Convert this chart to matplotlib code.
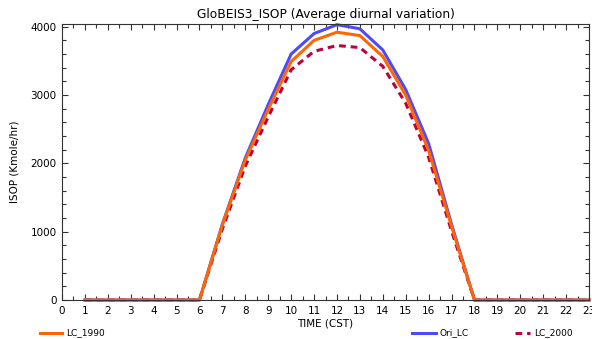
import matplotlib
matplotlib.use("Agg")
import matplotlib.pyplot as plt
from matplotlib.lines import Line2D
from matplotlib.ticker import MultipleLocator

# hourly values (hours 1..23, CST)
hours = list(range(1, 24))
lc_1990 = [0, 0, 0, 0, 0, 0, 1100, 2050, 2790, 3490, 3800, 3920, 3870, 3565, 3000, 2190, 1080,
           0, 0, 0, 0, 0, 0]
ori_lc = [0, 0, 0, 0, 0, 0, 1110, 2080, 2860, 3600, 3900, 4030, 3970, 3660, 3080, 2290, 1110,
          0, 0, 0, 0, 0, 0]
lc_2000 = [0, 0, 0, 0, 0, 0, 1040, 1960, 2680, 3370, 3640, 3725, 3695, 3420, 2880, 2090, 1010,
           0, 0, 0, 0, 0, 0]

c_1990 = "#ff6600"
c_ori = "#4a4aff"
c_2000 = "#c0003c"

fig = plt.figure(figsize=(5.92, 3.39), dpi=100)
ax = fig.add_axes([62 / 592, 1 - 300 / 339, 527 / 592, 276 / 339])

ax.plot(hours, lc_2000, color=c_2000, lw=2.2, ls=(0, (2.2, 1.6)), clip_on=False)
ax.plot(hours, ori_lc, color=c_ori, lw=2.2, clip_on=False)
ax.plot(hours, lc_1990, color=c_1990, lw=2.2, clip_on=False)

ax.set_xlim(0, 23)
ax.set_ylim(0, 4040)
ax.xaxis.set_major_locator(MultipleLocator(1))
ax.xaxis.set_minor_locator(MultipleLocator(0.5))
ax.yaxis.set_major_locator(MultipleLocator(1000))
ax.yaxis.set_minor_locator(MultipleLocator(200))
ax.tick_params(which="both", direction="in", top=True, right=True,
               labelsize=7.5, color="#333333", width=0.8)
ax.tick_params(which="major", length=4, pad=4)
ax.tick_params(which="minor", length=3)
for s in ax.spines.values():
    s.set_linewidth(0.8)
    s.set_color("#333333")

ax.set_title("GloBEIS3_ISOP (Average diurnal variation)", fontsize=8.8, pad=4)
ax.set_xlabel("TIME (CST)", fontsize=7.5, labelpad=2)
ax.set_ylabel("ISOP (Kmole/hr)", fontsize=7.5, labelpad=8)

# legend along the bottom edge
legend_items = [("LC_1990", c_1990, "-", 40, 62),
                ("Ori_LC", c_ori, "-", 412, 436),
                ("LC_2000", c_2000, (0, (2.2, 1.6)), 515, 530)]
ly = 1 - 333 / 339
for name, col, style, x0, x1 in legend_items:
    fig.add_artist(Line2D([x0 / 592, x1 / 592], [ly, ly], color=col, lw=2.2,
                          ls=style, transform=fig.transFigure))
    fig.text((x1 + 4) / 592, ly, name, fontsize=6.5, va="center", ha="left")

fig.savefig("out.png", dpi=100)
